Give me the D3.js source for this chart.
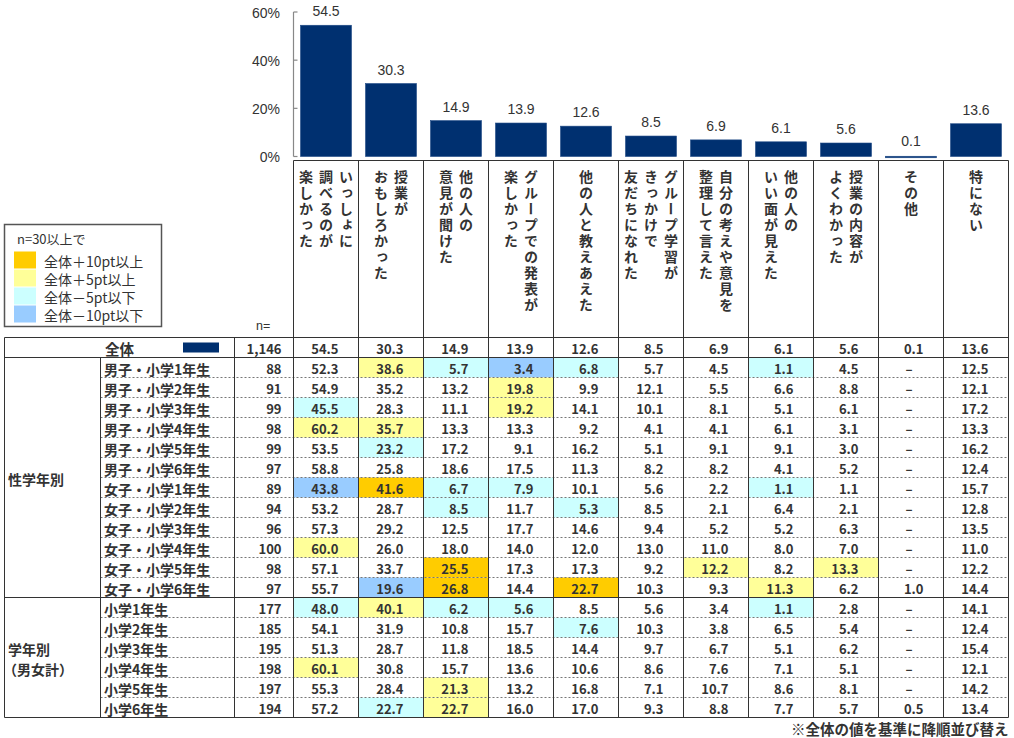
<!DOCTYPE html>
<html><head><meta charset="utf-8">
<script src="https://cdn.jsdelivr.net/npm/d3@7"></script>
<style>
html,body{margin:0;padding:0;background:#fff;}
svg{display:block;}
.jp{font-family:"Noto Sans CJK JP","Noto Sans",sans-serif;}
.num{font-family:"Liberation Sans",Arial,sans-serif;}
</style></head>
<body>
<svg id="chart" width="1014" height="738"></svg>
<script>
// ---- data ----
const categories = [
  ["いっしょに","調べるのが","楽しかった"],
  ["授業が","おもしろかった"],
  ["他の人の","意見が聞けた"],
  ["グループでの発表が","楽しかった"],
  ["他の人と教えあえた"],
  ["グループ学習が","きっかけで","友だちになれた"],
  ["自分の考えや意見を","整理して言えた"],
  ["他の人の","いい面が見えた"],
  ["授業の内容が","よくわかった"],
  ["その他"],
  ["特にない"]
];
const overallLabel = "全体";
const overallN = "1,146";
const overallValues = [54.5,30.3,14.9,13.9,12.6,8.5,6.9,6.1,5.6,0.1,13.6];
const yTicks = [0,20,40,60];

const groups = [
  {label:["性学年別"], start:0, count:12},
  {label:["学年別","（男女計）"], start:12, count:6}
];
const rowLabels = [
  "男子・小学1年生","男子・小学2年生","男子・小学3年生","男子・小学4年生","男子・小学5年生","男子・小学6年生",
  "女子・小学1年生","女子・小学2年生","女子・小学3年生","女子・小学4年生","女子・小学5年生","女子・小学6年生",
  "小学1年生","小学2年生","小学3年生","小学4年生","小学5年生","小学6年生"
];
const rowN = [88,91,99,98,99,97,89,94,96,100,98,97,177,185,195,198,197,194];
const rowValues = [
  [52.3,38.6,5.7,3.4,6.8,5.7,4.5,1.1,4.5,0,12.5],
  [54.9,35.2,13.2,19.8,9.9,12.1,5.5,6.6,8.8,0,12.1],
  [45.5,28.3,11.1,19.2,14.1,10.1,8.1,5.1,6.1,0,17.2],
  [60.2,35.7,13.3,13.3,9.2,4.1,4.1,6.1,3.1,0,13.3],
  [53.5,23.2,17.2,9.1,16.2,5.1,9.1,9.1,3.0,0,16.2],
  [58.8,25.8,18.6,17.5,11.3,8.2,8.2,4.1,5.2,0,12.4],
  [43.8,41.6,6.7,7.9,10.1,5.6,2.2,1.1,1.1,0,15.7],
  [53.2,28.7,8.5,11.7,5.3,8.5,2.1,6.4,2.1,0,12.8],
  [57.3,29.2,12.5,17.7,14.6,9.4,5.2,5.2,6.3,0,13.5],
  [60.0,26.0,18.0,14.0,12.0,13.0,11.0,8.0,7.0,0,11.0],
  [57.1,33.7,25.5,17.3,17.3,9.2,12.2,8.2,13.3,0,12.2],
  [55.7,19.6,26.8,14.4,22.7,10.3,9.3,11.3,6.2,1.0,14.4],
  [48.0,40.1,6.2,5.6,8.5,5.6,3.4,1.1,2.8,0,14.1],
  [54.1,31.9,10.8,15.7,7.6,10.3,3.8,6.5,5.4,0,12.4],
  [51.3,28.7,11.8,18.5,14.4,9.7,6.7,5.1,6.2,0,15.4],
  [60.1,30.8,15.7,13.6,10.6,8.6,7.6,7.1,5.1,0,12.1],
  [55.3,28.4,21.3,13.2,16.8,7.1,10.7,8.6,8.1,0,14.2],
  [57.2,22.7,22.7,16.0,17.0,9.3,8.8,7.7,5.7,0.5,13.4]
];
const legendTitle = "n=30以上で";
const legendItems = [
  {label:"全体＋10pt以上", color:"#FFCC00"},
  {label:"全体＋5pt以上",  color:"#FFFF99"},
  {label:"全体－5pt以下",  color:"#CCFFFF"},
  {label:"全体－10pt以下", color:"#99CCFF"}
];
const footnote = "※全体の値を基準に降順並び替え";

// ---- layout ----
const NAVY = "#003070";
const LINE = "#333";
const svg = d3.select("#chart");

const x = d3.scaleBand().domain(d3.range(categories.length)).range([293.5, 1008.5]).padding(0);
const y = d3.scaleLinear().domain([0,60]).range([156.5, 12]);
const headerTop = 160.5;
const allRows = [overallLabel].concat(rowLabels);
const r = d3.scaleBand().domain(d3.range(allRows.length)).range([337.5, 717.5]).padding(0);
const tableLeft = 4.5, groupRight = 100.5, labelRight = 234.5, tableRight = 1008.5;

// ---- bar chart ----
const gAxis = svg.append("g");
gAxis.append("line").attr("x1",x.range()[0]).attr("x2",x.range()[0])
  .attr("y1",y(60)).attr("y2",y(0)).attr("stroke","#888").attr("stroke-width",1.2);
yTicks.forEach(t=>{
  gAxis.append("line").attr("x1",x.range()[0]).attr("x2",x.range()[0]+4)
    .attr("y1",y(t)).attr("y2",y(t)).attr("stroke","#888").attr("stroke-width",1.2);
  gAxis.append("text").attr("class","num").attr("x",280).attr("y",y(t)+2)
    .attr("text-anchor","end").attr("dominant-baseline","middle")
    .attr("font-size",14).attr("fill","#333").text(t+"%");
});

svg.append("g").selectAll("rect").data(overallValues).join("rect")
  .attr("x",(d,i)=>x(i)+7).attr("width",x.bandwidth()-14)
  .attr("y",d=>y(d)).attr("height",d=>Math.max(1.5,y(0)-y(d)))
  .attr("fill",NAVY).attr("stroke","#1f4a86").attr("stroke-width",0.6);

svg.append("g").selectAll("text").data(overallValues).join("text")
  .attr("class","num")
  .attr("x",(d,i)=>x(i)+x.bandwidth()/2).attr("y",d=>Math.min(y(d),y(0)-1.5)-9)
  .attr("text-anchor","middle").attr("font-size",14).attr("fill","#333")
  .text(d=>d.toFixed(1));

// ---- header (vertical labels) ----
const gHead = svg.append("g");
gHead.append("line").attr("x1",x.range()[0]).attr("x2",tableRight)
  .attr("y1",headerTop).attr("y2",headerTop).attr("stroke",LINE);
categories.forEach((lines,i)=>{
  const cx = x(i)+x.bandwidth()/2;
  const n = lines.length, sp = 20;
  lines.forEach((ln,j)=>{
    gHead.append("text").attr("class","jp")
      .attr("x", cx + (n-1)/2*sp - j*sp).attr("y", headerTop+9)
      .style("writing-mode","vertical-rl")
      .attr("font-size",14).attr("font-weight",700).attr("fill","#333")
      .attr("letter-spacing",2)
      .text(ln);
  });
});
svg.append("text").attr("class","num").attr("x",256).attr("y",330)
  .attr("font-size",12.5).attr("fill","#333").text("n=");

// ---- legend ----
const gLeg = svg.append("g");
gLeg.append("rect").attr("x",4.5).attr("y",224.5).attr("width",157).attr("height",102)
  .attr("fill","#fff").attr("stroke","#555").attr("stroke-width",1.5);
gLeg.append("text").attr("class","jp").attr("x",17).attr("y",238)
  .attr("dominant-baseline","central").attr("font-size",13).attr("fill","#333").text(legendTitle);
legendItems.forEach((it,i)=>{
  const cy = 260 + i*18;
  gLeg.append("rect").attr("x",14).attr("y",cy-8.5).attr("width",22).attr("height",17).attr("fill",it.color);
  gLeg.append("text").attr("class","jp").attr("x",44).attr("y",cy+1)
    .attr("dominant-baseline","central").attr("font-size",14).attr("fill","#333").text(it.label);
});

// ---- table ----
function cellColor(v, i){
  const d = Math.round((v - overallValues[i])*10)/10;
  if (d>=10) return legendItems[0].color;
  if (d<=-10) return legendItems[3].color;
  if (d>=5) return legendItems[1].color;
  if (d<=-5) return legendItems[2].color;
  return null;
}
const gCells = svg.append("g");
rowValues.forEach((vals,ri)=>{
  vals.forEach((v,ci)=>{
    const c = cellColor(v,ci);
    if (c) gCells.append("rect").attr("x",x(ci)).attr("y",r(ri+1))
      .attr("width",x.bandwidth()).attr("height",r.bandwidth()).attr("fill",c);
  });
});

const gLines = svg.append("g").attr("stroke",LINE).attr("stroke-width",1);
groups.forEach(g=>{
  for (let k=1;k<g.count;k++){
    const yy = r(g.start+1+k);
    gLines.append("line").attr("x1",groupRight).attr("x2",tableRight).attr("y1",yy).attr("y2",yy)
      .attr("stroke","#777").attr("stroke-dasharray","2,2");
  }
});
[r(0), r(1), r(groups[1].start+1), r.range()[1]].forEach(yy=>{
  gLines.append("line").attr("x1",tableLeft).attr("x2",tableRight).attr("y1",yy).attr("y2",yy);
});
gLines.append("line").attr("x1",tableLeft).attr("x2",tableLeft).attr("y1",r(0)).attr("y2",r.range()[1]);
gLines.append("line").attr("x1",groupRight).attr("x2",groupRight).attr("y1",r(1)).attr("y2",r.range()[1]);
gLines.append("line").attr("x1",labelRight).attr("x2",labelRight).attr("y1",r(0)).attr("y2",r.range()[1]);
d3.range(categories.length+1).forEach(i=>{
  const xx = i<categories.length ? x(i) : tableRight;
  gLines.append("line").attr("x1",xx).attr("x2",xx).attr("y1",headerTop).attr("y2",r.range()[1]);
});

const gText = svg.append("g").attr("fill","#333");
const midY = i => r(i)+r.bandwidth()/2+1;
gText.append("text").attr("class","jp").attr("x",105).attr("y",midY(0))
  .attr("dominant-baseline","central").attr("font-size",14.5).attr("font-weight",700).text(overallLabel);
gText.append("rect").attr("x",183).attr("y",r(0)+5).attr("width",36).attr("height",10).attr("fill",NAVY);
gText.append("text").attr("class","jp").attr("x",x.range()[0]-12).attr("y",midY(0))
  .attr("dominant-baseline","central").attr("text-anchor","end").attr("font-size",13).attr("font-weight",700).text(overallN);
overallValues.forEach((v,ci)=>{
  gText.append("text").attr("class","jp").attr("x",x(ci)+x.bandwidth()-20).attr("y",midY(0))
    .attr("dominant-baseline","central").attr("text-anchor","end").attr("font-size",13).attr("font-weight",700)
    .text(v.toFixed(1));
});
groups.forEach(g=>{
  const cy = (r(g.start+1) + r(g.start+g.count) + r.bandwidth())/2;
  const n = g.label.length;
  g.label.forEach((t,j)=>{
    gText.append("text").attr("class","jp").attr("x",t.startsWith("（")?3:8)
      .attr("y",cy + (j-(n-1)/2)*20 + 1).attr("dominant-baseline","central")
      .attr("font-size",14).attr("font-weight",700).text(t);
  });
});
rowLabels.forEach((lab,ri)=>{
  const yy = midY(ri+1);
  gText.append("text").attr("class","jp").attr("x",104).attr("y",yy)
    .attr("dominant-baseline","central").attr("font-size",14).attr("font-weight",700).text(lab);
  gText.append("text").attr("class","jp").attr("x",x.range()[0]-12).attr("y",yy)
    .attr("dominant-baseline","central").attr("text-anchor","end").attr("font-size",13).attr("font-weight",700)
    .text(d3.format(",")(rowN[ri]));
  rowValues[ri].forEach((v,ci)=>{
    const t = gText.append("text").attr("class","jp").attr("y",yy)
      .attr("dominant-baseline","central").attr("font-size",13).attr("font-weight",700);
    if (v===0) t.attr("x",x(ci)+x.bandwidth()/2-2).attr("text-anchor","middle").text("–");
    else t.attr("x",x(ci)+x.bandwidth()-20).attr("text-anchor","end").text(v.toFixed(1));
  });
});
svg.append("text").attr("class","jp").attr("x",tableRight).attr("y",728)
  .attr("dominant-baseline","central").attr("text-anchor","end")
  .attr("font-size",14.5).attr("font-weight",700).attr("fill","#333").text(footnote);
</script>
</body></html>
